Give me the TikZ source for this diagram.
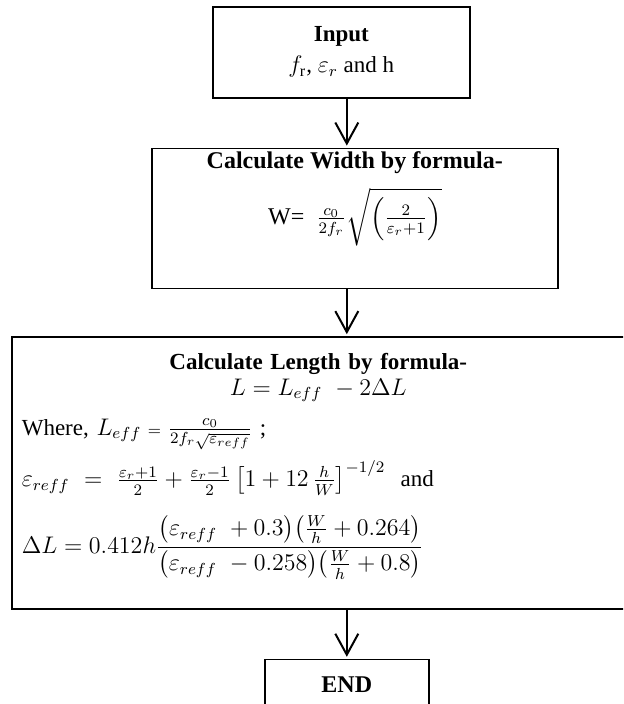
\documentclass[tikz,border=0pt]{standalone}
\usepackage{amsmath}
\usepackage{amssymb}
\usepackage{fontspec}
\setmainfont{Liberation Serif}
\usetikzlibrary{positioning, arrows.meta}

\begin{document}
\begin{tikzpicture}[
    x=0.5pt, y=-0.5pt,
    box/.style={draw, rectangle, line width=0.8pt, align=center, inner sep=0pt,
                font=\fontsize{11.5}{13}\selectfont},
    arrow/.style={-{Straight Barb[length=10.5pt, width=11.5pt]}, line width=1pt, shorten >=1pt}
]
\useasboundingbox (0,0) rectangle (623,704);
\clip (0,0) rectangle (623,704);

\node[box, minimum width=128.5pt, minimum height=45.5pt, anchor=north west] (input) at (212,6)
    {\textbf{Input}\\[2.5pt] $f_{\mathrm{r}}$, $\varepsilon_r$\ and h};
\node[box, minimum width=203pt, minimum height=70pt, below=24.5pt of input, xshift=6.75pt,
      font=\fontsize{12}{14}\selectfont] (width)
    {\textbf{Calculate Width by formula-}\\[6pt]
     W=\ \ $\frac{c_0}{2f_r}\sqrt{\left(\frac{2}{\varepsilon_r+1}\right)}$\\[16pt]};
\node[box, minimum width=306.5pt, minimum height=136pt, inner xsep=5pt, text width=296.5pt,
      align=left, below=23.5pt of width, xshift=-18.25pt] (length) {%
    {\centering\textbf{Calculate Length by formula-}\\
    $L = L_{eff}\ - 2\Delta L$\par}\vspace{7pt}
    Where, $L_{eff}\mathrel{\scriptstyle=}\frac{c_{\scriptscriptstyle 0}}{2f_r\sqrt{\varepsilon_{reff}}}$\ ;\\[4.5pt]
    $\varepsilon_{reff}\ =\ \frac{\varepsilon_r+1}{2}+\frac{\varepsilon_r-1}{2}\left[1+12\,\frac{h}{W}\right]^{-1/2}$\ \ and\\[9pt]
    $\Delta L = 0.412h\dfrac{\bigl(\varepsilon_{reff}\ +0.3\bigr)\bigl(\tfrac{W}{h}+0.264\bigr)}{\bigl(\varepsilon_{reff}\ -0.258\bigr)\bigl(\tfrac{W}{h}+0.8\bigr)}$\rule[-20pt]{0pt}{0pt}};
\node[box, minimum width=82pt, minimum height=25pt, below=24.5pt of length, xshift=14.25pt,
      font=\fontsize{12}{14}\selectfont\bfseries] (stop) {END};

\draw[arrow] (input.south -| stop.north) -- (width.north -| stop.north);
\draw[arrow] (width.south -| stop.north) -- (length.north -| stop.north);
\draw[arrow] (length.south -| stop.north) -- (stop.north);

\end{tikzpicture}
\end{document}
